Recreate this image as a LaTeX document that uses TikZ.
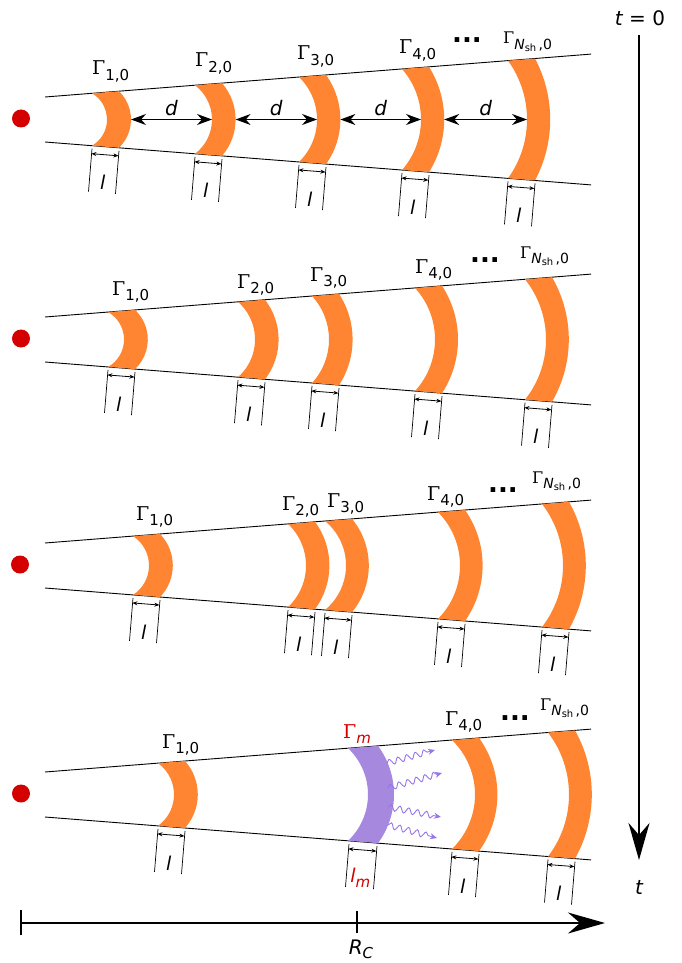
\documentclass[tikz,border=0pt]{standalone}
\usepackage{fontspec}
\setmainfont{DejaVu Sans}
\newfontfamily\gserif{DejaVu Serif}
\usetikzlibrary{arrows.meta,decorations.pathmorphing}
\definecolor{shellorange}{HTML}{FF8533}
\definecolor{mergepurple}{HTML}{A689DE}
\definecolor{wavepurple}{HTML}{9775E8}
\definecolor{sourcered}{HTML}{D40000}

% lowered subscript in text, upright Gamma
\newcommand{\lo}[1]{\raisebox{-0.5ex}{\fontsize{15}{15}\selectfont #1}}
\newcommand{\Gam}{{\gserif Γ}}
\newcommand{\gnsh}{{\fontsize{16}{16}\selectfont\gserif Γ}\raisebox{-0.5ex}{\fontsize{14}{14}\selectfont\itshape N\raisebox{-0.35ex}{\fontsize{10}{10}\selectfont\upshape sh}\upshape\,,0}}

% one shell: name, left x, top ray y at x=45, bulge, width, fill
\newcommand{\shell}[6]{%
  \pgfmathsetmacro{\shH}{22.5+0.0785*(#2-45)}%
  \pgfmathsetmacro{\shY}{#3+22.5}%
  \pgfmathsetmacro{\shR}{(\shH*\shH+#4*#4)/(2*#4)}%
  \pgfmathsetmacro{\shA}{asin(\shH/\shR)}%
  \pgfmathsetmacro{\shX}{#2+#5}%
  \pgfmathsetmacro{\shHo}{\shH+0.0785*#5}%
  \pgfmathsetmacro{\shB}{0.8*#4}%
  \pgfmathsetmacro{\shRo}{(\shHo*\shHo+\shB*\shB)/(2*\shB)}%
  \pgfmathsetmacro{\shAo}{asin(\shHo/\shRo)}%
  \fill[#6] (#2,\shY-\shH) arc[start angle=\shA, end angle=-\shA, radius=\shR pt]
    -- (\shX,\shY+\shHo) arc[start angle=-\shAo, end angle=\shAo, radius=\shRo pt] -- cycle;
  \coordinate (#1-in) at (#2+#4,\shY);
  \coordinate (#1-out) at (\shX+\shB,\shY);
}

% width marker under a shell: name, left x, top ray y at x=45, width, label
\newcommand{\lmark}[5]{%
  \pgfmathsetmacro{\mkY}{#3+45+0.0785*(#2-45)}%
  \pgfmathsetmacro{\mkYr}{\mkY+0.0785*#4}%
  \draw[lmarktick] (#2,\mkY+3) -- ++(-3.5,43);
  \draw[lmarktick] (#2+#4,\mkYr+3) -- ++(-3.5,43);
  \draw[larrow] (#2-0.6,\mkY+8) -- (#2+#4-0.6,\mkYr+8);
  \node[llbl] (#1) at (#2+#4/2-2.8,\mkY+37) {#5};
}

\begin{document}
\begin{tikzpicture}[x=1pt, y=-1pt,
  ray/.style={line width=0.9pt},
  source/.style={circle, fill=sourcered, minimum size=18pt, inner sep=0pt},
  lmarktick/.style={line width=0.7pt},
  larrow/.style={line width=0.8pt, {Stealth[length=5pt,width=4pt]}-{Stealth[length=5pt,width=4pt]}},
  darrow/.style={line width=1.2pt, {Stealth[length=15pt,width=11pt]}-{Stealth[length=15pt,width=11pt]}},
  timeaxis/.style={line width=2pt, -{Stealth[length=37pt,width=21pt]}},
  axistick/.style={line width=1.5pt},
  wave/.style={wavepurple, line width=0.9pt, decorate,
    decoration={snake, amplitude=3pt, segment length=9pt, post length=5pt},
    -{Stealth[length=7pt,width=6pt]}},
  glbl/.style={anchor=base west, inner sep=0pt, font=\fontsize{19}{24}\selectfont},
  dlbl/.style={above=3pt, inner sep=0pt, font=\fontsize{20}{24}\selectfont\itshape},
  llbl/.style={inner sep=0pt, font=\fontsize{19}{22}\selectfont},
  tlbl/.style={inner sep=0pt, font=\fontsize{20}{24}\selectfont},
  dotlbl/.style={inner sep=0pt, font=\fontsize{26}{28}\selectfont\bfseries}]

  \useasboundingbox (0,0) rectangle (682,963);

  % === Rays and central source, one row per time step ===
  \foreach \Y/\sx [count=\p] in {97/21,317/21,543/20,772/21} {
    \node[source] (src\p) at (\sx,\Y+21.5) {};
    \draw[ray] (45,\Y) -- (591,\Y-42.9);
    \draw[ray] (45,\Y+45) -- (591,\Y+87.9);
  }

  % === Row 1: t = 0 ===
  \foreach \n/\x/\b in {1/92/15,2/195/17,3/299/18,4/402/19,5/508/19} {
    \shell{a\n}{\x}{97}{\b}{27}{shellorange}
    \lmark{la\n}{\x}{97}{27}{\itshape l}
  }
  \foreach \i/\j in {1/2,2/3,3/4,4/5}
    \draw[darrow] (a\i-out) -- node[dlbl] (d\i) {d} (a\j-in);

  \node[glbl] (ga1) at (92,75) {\Gam\lo{1,0}};
  \node[glbl] (ga2) at (195,67) {\Gam\lo{2,0}};
  \node[glbl] (ga3) at (297,60) {\Gam\lo{3,0}};
  \node[glbl] (ga4) at (399,54) {\Gam\lo{4,0}};
  \node[glbl] (ga5) at (503,44) {\gnsh};
  \node[dotlbl] (dotsa) at (467,40) {...};

  % === Row 2 ===
  \foreach \n/\x/\b in {1/108/16,2/238/17,3/312/17,4/415/20,5/525/21} {
    \shell{b\n}{\x}{317}{\b}{27}{shellorange}
    \lmark{lb\n}{\x}{317}{27}{\itshape l}
  }
  \node[glbl] (gb1) at (112,295) {\Gam\lo{1,0}};
  \node[glbl] (gb2) at (237,288) {\Gam\lo{2,0}};
  \node[glbl] (gb3) at (310,281) {\Gam\lo{3,0}};
  \node[glbl] (gb4) at (415,273) {\Gam\lo{4,0}};
  \node[glbl] (gb5) at (520,258) {\gnsh};
  \node[dotlbl] (dotsb) at (485,260) {...};

  % === Row 3: shells 2 and 3 about to collide ===
  \foreach \n/\x/\b in {1/133/16,2/288/18,3/325/21,4/438/22,5/542/21} {
    \shell{c\n}{\x}{543}{\b}{27}{shellorange}
    \lmark{lc\n}{\x}{543}{27}{\itshape l}
  }
  \node[glbl] (gc1) at (136,520) {\Gam\lo{1,0}};
  \node[glbl] (gc2) at (282,510) {\Gam\lo{2,0}};
  \node[glbl] (gc3) at (327,507) {\Gam\lo{3,0}};
  \node[glbl] (gc4) at (427,500) {\Gam\lo{4,0}};
  \node[glbl] (gc5) at (532,483) {\gnsh};
  \node[dotlbl] (dotsc) at (503,490) {...};

  % === Row 4: merged shell radiates ===
  \foreach \n/\x/\b in {1/158/16,4/452/23,5/548/21} {
    \shell{e\n}{\x}{772}{\b}{27}{shellorange}
    \lmark{le\n}{\x}{772}{27}{\itshape l}
  }
  \shell{em}{348}{772}{20}{30}{mergepurple}
  \lmark{lem}{349}{772}{28}{\color{sourcered}\itshape l\lo{m}}

  \coordinate (w1s) at (387,763); \coordinate (w1e) at (435,750);
  \coordinate (w2s) at (388,788); \coordinate (w2e) at (442,773);
  \coordinate (w3s) at (388,807); \coordinate (w3e) at (441,817);
  \coordinate (w4s) at (388,825); \coordinate (w4e) at (437,838);
  \foreach \k in {1,...,4}
    \draw[wave] (w\k s) -- (w\k e);

  \node[glbl] (ge1) at (162,748) {\Gam\lo{1,0}};
  \node[glbl, text=sourcered] (gem) at (343,738) {\Gam\lo{\itshape m}};
  \node[glbl] (ge4) at (445,725) {\Gam\lo{4,0}};
  \node[glbl] (ge5) at (540,710) {\gnsh};
  \node[dotlbl] (dotse) at (515,718) {...};

  % === Time axis ===
  \node[tlbl] (tzero) at (640,18) {\itshape t\upshape\ = 0};
  \coordinate (ttop) at (639,35);
  \coordinate (tend) at (639,860);
  \draw[timeaxis] (ttop) -- (tend);
  \node[tlbl] (tlab) at (639,887) {\itshape t};

  % === Radius axis ===
  \coordinate (rzero) at (21,923);
  \coordinate (rc) at (357,923);
  \coordinate (rend) at (605,923);
  \draw[timeaxis] (rzero) -- (rend);
  \draw[axistick] ([yshift=-12pt]rzero) -- ([yshift=13pt]rzero);
  \draw[axistick] ([yshift=-10pt]rc) -- ([yshift=12pt]rc);
  \node[tlbl, anchor=north] (rclab) at (361,940)
    {\itshape R\raisebox{-0.35ex}{\fontsize{15}{15}\selectfont C}};

\end{tikzpicture}
\end{document}
